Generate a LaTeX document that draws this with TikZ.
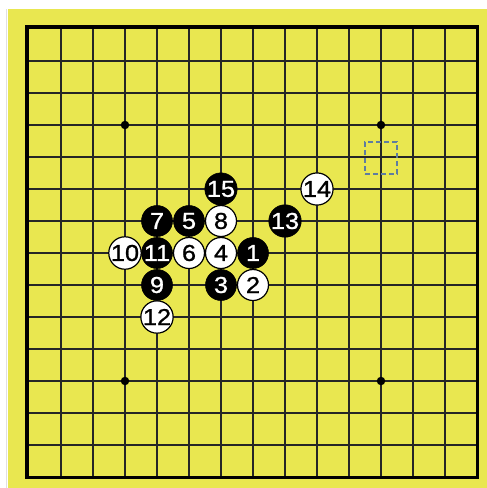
\documentclass[tikz,border=0pt]{standalone}
\usepackage{fontspec}
\setmainfont{Liberation Sans}
\newfontfamily\stonefont[FakeBold=1]{Liberation Sans}
\definecolor{board}{RGB}{233,231,80}
\definecolor{dashc}{RGB}{95,125,160}
\newcommand{\stnum}[1]{\scalebox{1.1}[1]{#1}}
\begin{document}
\begin{tikzpicture}[x=1pt,y=-1pt,
  blackstone/.style={circle,fill=black,draw=black,line width=0.6pt,minimum size=31pt,inner sep=0pt,text=white,font=\stonefont\fontsize{23}{23}\selectfont},
  whitestone/.style={circle,fill=white,draw=black,line width=1.2pt,minimum size=31pt,inner sep=0pt,text=black,font=\stonefont\fontsize{23}{23}\selectfont},
  starpt/.style={circle,fill=black,inner sep=0pt,minimum size=8.5pt},
  gridline/.style={line width=1.1pt,black!85}]
\useasboundingbox (0,0) rectangle (487,488);
\fill[white] (0,0) rectangle (487,488);
\fill[board] (7.5,9) rectangle (487,488);
\draw[black!12,line width=1.2pt] (6.5,9) -- (6.5,488);
% grid
\foreach \i in {1,...,13}{
  \draw[gridline] ({29+32*\i},27) -- ({29+32*\i},477.5);
  \draw[gridline] (27,{29+32*\i}) -- (477.5,{29+32*\i});
}
\draw[line width=3.2pt] (27,27) rectangle (477.5,477.5);
% star points
\node[starpt] (s1) at (125,125) {};
\node[starpt] (s2) at (381,125) {};
\node[starpt] (s3) at (125,381) {};
\node[starpt] (s4) at (381,381) {};
% dashed marker
\node[draw=dashc,line width=1.2pt,dash pattern=on 5pt off 3pt,minimum size=32pt,inner sep=0pt] (mk) at (381,158) {};
% stones
\node[blackstone] (n1) at (253,253) {\stnum{1}};
\node[whitestone] (n2) at (253,285) {\stnum{2}};
\node[blackstone] (n3) at (221,285) {\stnum{3}};
\node[whitestone] (n4) at (221,253) {\stnum{4}};
\node[blackstone] (n5) at (189,221) {\stnum{5}};
\node[whitestone] (n6) at (189,253) {\stnum{6}};
\node[blackstone] (n7) at (157,221) {\stnum{7}};
\node[whitestone] (n8) at (221,221) {\stnum{8}};
\node[blackstone] (n9) at (157,285) {\stnum{9}};
\node[whitestone] (n10) at (125,253) {\stnum{10}};
\node[blackstone] (n11) at (157,253) {\stnum{11}};
\node[whitestone] (n12) at (157,317) {\stnum{12}};
\node[blackstone] (n13) at (285,221) {\stnum{13}};
\node[whitestone] (n14) at (317,189) {\stnum{14}};
\node[blackstone] (n15) at (221,189) {\stnum{15}};
\end{tikzpicture}
\end{document}
